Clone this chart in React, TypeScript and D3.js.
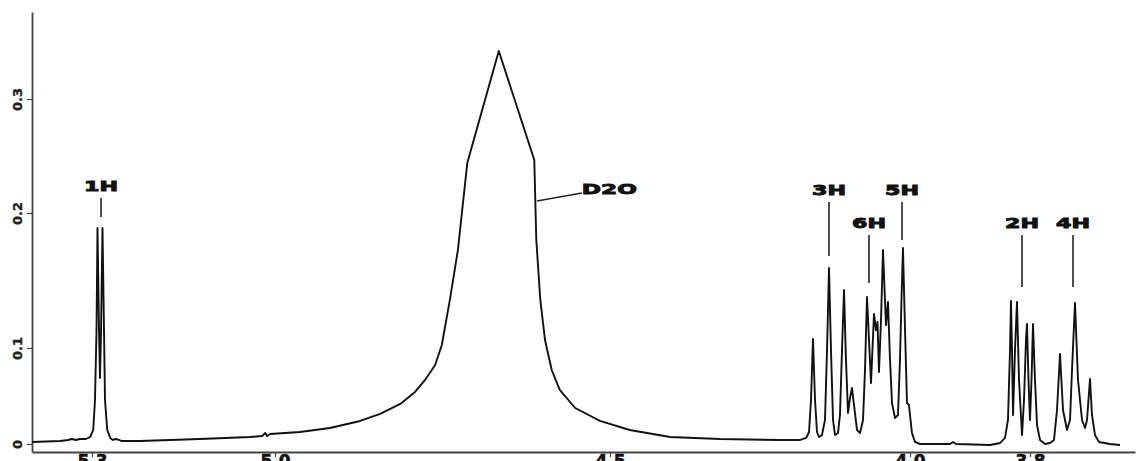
import React, { useEffect, useRef } from 'react';
import * as d3 from 'd3';

// chemical shift (ppm) and intensity
const ppm = [
  5.398, 5.352, 5.339, 5.333, 5.326, 5.32, 5.31, 5.303, 5.298, 5.2951, 5.2926, 5.291, 5.2885,
  5.2869, 5.2852, 5.2828, 5.2803, 5.2787, 5.275, 5.27, 5.266, 5.261, 5.256, 5.251, 5.221,
  5.123, 5.041, 5.021, 5.016, 5.013, 5.008, 4.963, 4.918, 4.873, 4.843, 4.813, 4.791, 4.776,
  4.761, 4.751, 4.739, 4.727, 4.713, 4.666, 4.613, 4.61, 4.604, 4.597, 4.587, 4.575, 4.552,
  4.515, 4.467, 4.4, 4.317, 4.217, 4.183, 4.173,
  4.1683, 4.165, 4.1617, 4.1583, 4.155, 4.1517, 4.1467, 4.1417, 4.1383, 4.135, 4.1317, 4.1283,
  4.125, 4.12, 4.1167, 4.1133, 4.11, 4.1067, 4.1033, 4.1, 4.0967, 4.0933, 4.0883, 4.0833,
  4.0783, 4.075, 4.0717, 4.0683, 4.065, 4.06, 4.0567, 4.0542, 4.0517, 4.0483, 4.045, 4.0417,
  4.04, 4.0367, 4.0333, 4.03, 4.025, 4.02, 4.0167, 4.0142, 4.0117, 4.0083, 4.005, 4.0017, 4.0,
  3.9967, 3.9917, 3.9833, 3.95, 3.9333, 3.9283, 3.9233, 3.8667, 3.85,
  3.8417, 3.8367, 3.8333, 3.8317, 3.83, 3.8283, 3.825, 3.8217, 3.8183, 3.8133, 3.81, 3.8067,
  3.805, 3.8025, 3.8, 3.7975, 3.795, 3.7917, 3.7883, 3.7833, 3.775, 3.7667, 3.76, 3.755, 3.75,
  3.745, 3.7383, 3.7333, 3.73, 3.725, 3.72, 3.7133, 3.7083, 3.705, 3.7, 3.6967, 3.6917, 3.685,
  3.6667, 3.65,
];
const intensity = [
  0.0021, 0.0031, 0.0042, 0.0052, 0.0042, 0.0052, 0.0052, 0.0073, 0.0146, 0.0458, 0.113, 0.189,
  0.113, 0.0688, 0.113, 0.189, 0.113, 0.0458, 0.0146, 0.0063, 0.0042, 0.0052, 0.0042, 0.0031,
  0.0031, 0.0052, 0.0073, 0.0083, 0.0115, 0.0083, 0.0104, 0.0125, 0.0167, 0.024, 0.0313,
  0.0417, 0.0542, 0.0667, 0.0823, 0.1022, 0.1356, 0.1726, 0.2439, 0.3421, 0.2465, 0.18, 0.1356,
  0.1059, 0.0771, 0.0563, 0.0375, 0.024, 0.0146, 0.0073, 0.0052, 0.0042, 0.0042, 0.0063,
  0.0125, 0.0458, 0.1067, 0.0458, 0.0125, 0.0073, 0.0094, 0.025, 0.0979, 0.1593, 0.0979, 0.025,
  0.0094, 0.0115, 0.0302, 0.0979, 0.143, 0.0875, 0.0323, 0.0479, 0.0583, 0.0406, 0.0146, 0.0115,
  0.025, 0.0771, 0.1378, 0.1059, 0.0635, 0.1252, 0.1133, 0.1193, 0.075, 0.1207, 0.1726, 0.1356,
  0.117, 0.1341, 0.0875, 0.0427, 0.0271, 0.0302, 0.0875, 0.1356, 0.1741, 0.1133, 0.0427, 0.0406,
  0.0302, 0.0115, 0.0021, 0.0, 0.0, 0.0, 0.0021, 0.0, -0.001, 0.001,
  0.0063, 0.025, 0.0979, 0.1348, 0.0979, 0.0302, 0.0979, 0.1341, 0.0667, 0.0094, 0.0458, 0.1059,
  0.1178, 0.0667, 0.025, 0.0667, 0.1178, 0.0667, 0.0198, 0.0042, 0.0, 0.001, 0.0042, 0.0354,
  0.0938, 0.0354, 0.0146, 0.025, 0.0771, 0.1333, 0.0667, 0.025, 0.0167, 0.025, 0.0677, 0.0302,
  0.0094, 0.0021, 0.0, -0.001,
];

const xTicks = [5.3, 5.0, 4.5, 4.0, 3.8];
const yTicks = [0, 0.1, 0.2, 0.3];
const yTickLabels = ['0', '0.1', '0.2', '0.3'];

const peakLabels = ['1H', '3H', '6H', '5H', '2H', '4H'];
const peakPpm = [5.2852, 4.135, 4.0683, 4.0133, 3.8133, 3.7283];
const peakLineTop = [0.2132, 0.2096, 0.1837, 0.2096, 0.1837, 0.1837];
const peakLineBottom = [0.197, 0.1681, 0.1481, 0.18, 0.1452, 0.1452];

const solventLabel = 'D2O';
const solventFrom = [4.609, 0.2105];
const solventTo = [4.542, 0.2175];

const W = 1139;
const H = 461;
const labelFont = '"DejaVu Sans", sans-serif';

const App = () => {
  const xAxisRef = useRef<SVGGElement>(null);
  const yAxisRef = useRef<SVGGElement>(null);

  // the printed axes are not evenly spaced, so both scales are piecewise
  const x = d3
    .scaleLinear()
    .domain([5.398, 5.3, 5.0, 4.5, 3.8, 3.625])
    .range([32, 92, 275, 610, 1030, 1135]);
  const y = d3
    .scaleLinear()
    .domain([-0.0083, 0, 0.1, 0.2, 0.3, 0.3763])
    .range([452, 444, 348, 213, 99, 12]);

  useEffect(() => {
    const xa = d3.select(xAxisRef.current);
    xa.selectAll('*').remove();
    xa.call(
      d3.axisBottom(x).tickValues(xTicks).tickSize(5).tickSizeOuter(0).tickFormat(d3.format('.1f')) as any
    );
    xa.select('.domain').attr('stroke', '#444').attr('stroke-width', 1.8);
    xa.selectAll('.tick line').attr('stroke', '#444').attr('stroke-width', 1.2);
    xa.selectAll('.tick text')
      .attr('y', 3)
      .attr('fill', '#111')
      .attr('stroke', '#111')
      .attr('stroke-width', 0.6)
      .style('font-family', labelFont)
      .style('font-weight', 'bold')
      .style('font-size', '17px');

    const ya = d3.select(yAxisRef.current);
    ya.selectAll('*').remove();
    ya.call(d3.axisLeft(y).tickValues(yTicks).tickSize(5).tickSizeOuter(0) as any);
    ya.select('.domain').attr('stroke', '#444').attr('stroke-width', 1.8);
    ya.selectAll('.tick line').attr('stroke', '#444').attr('stroke-width', 1.2);
    ya.selectAll('.tick text')
      .text((_, i) => yTickLabels[i])
      .attr('x', 0)
      .attr('y', 0)
      .attr('dy', '0.35em')
      .attr('text-anchor', 'middle')
      .attr('transform', 'translate(-15,0) rotate(-90)')
      .attr('fill', '#222')
      .attr('stroke', '#222')
      .attr('stroke-width', 0.4)
      .style('font-family', labelFont)
      .style('font-weight', 'bold')
      .style('font-size', '13px');
  }, []);

  const line = d3
    .line<number>()
    .x((_, i) => x(ppm[i]))
    .y((_, i) => y(intensity[i]));

  return (
    <svg
      width={W}
      height={H}
      style={{ position: 'absolute', left: 0, top: 0, background: '#fff' }}
    >
      <g ref={yAxisRef} transform={`translate(${x(5.398)},0)`} />
      <g ref={xAxisRef} transform={`translate(0,${y(-0.0083)})`} />
      <path d={line(ppm) || ''} fill="none" stroke="#111" strokeWidth={1.9} strokeLinejoin="round" />

      {peakLabels.map((label, i) => {
        const px = x(peakPpm[i]);
        const top = y(peakLineTop[i]);
        return (
          <g key={label}>
            <line x1={px} x2={px} y1={top} y2={y(peakLineBottom[i])} stroke="#222" strokeWidth={1.6} />
            <text
              x={px}
              y={top - 7}
              textAnchor="middle"
              textLength={34}
              lengthAdjust="spacingAndGlyphs"
              fontFamily={labelFont}
              fontWeight="bold"
              fontSize={14}
              fill="#111"
              stroke="#111"
              strokeWidth={0.9}
            >
              {label}
            </text>
          </g>
        );
      })}

      <line
        x1={x(solventFrom[0])}
        y1={y(solventFrom[1])}
        x2={x(solventTo[0])}
        y2={y(solventTo[1])}
        stroke="#222"
        strokeWidth={1.4}
      />
      <text
        x={x(solventTo[0])}
        y={y(solventTo[1]) + 1}
        textLength={55}
        lengthAdjust="spacingAndGlyphs"
        fontFamily={labelFont}
        fontWeight="bold"
        fontSize={14}
        fill="#111"
        stroke="#111"
        strokeWidth={0.9}
      >
        {solventLabel}
      </text>
    </svg>
  );
};

export default App;
